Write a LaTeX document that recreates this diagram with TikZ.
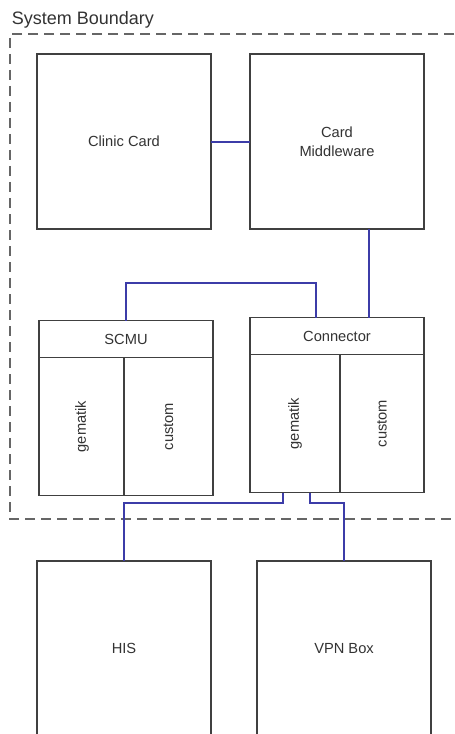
\documentclass[tikz,border=0pt]{standalone}
\usepackage{fontspec}
\setmainfont{Liberation Sans}
\usetikzlibrary{calc}
\definecolor{boxline}{HTML}{404040}
\definecolor{txt}{HTML}{333333}
\definecolor{link}{HTML}{3C3CA8}
\definecolor{bound}{HTML}{666666}
\tikzset{
  box/.style={draw=boxline, line width=1.15pt, minimum width=130.5pt, minimum height=131.25pt, inner sep=0pt, outer sep=0pt, text=txt, font=\fontsize{11}{14}\selectfont, align=center},
  lbl/.style={text=txt, font=\fontsize{11}{14}\selectfont, inner sep=0pt},
  inner/.style={draw=boxline, line width=1.15pt},
  link/.style={draw=link, line width=1pt},
  boundary/.style={draw=bound, line width=1.5pt, dash pattern=on 7.5pt off 4.5pt}
}
\begin{document}
\begin{tikzpicture}[x=0.75pt, y=-0.75pt]
\useasboundingbox (0,0) rectangle (454,734);
\clip (0,0) rectangle (454,734);
\fill[white] (0,0) rectangle (454,734);

% title
\node[anchor=base west, text=txt, font=\fontsize{13.5}{16}\selectfont, inner sep=0pt] (title) at (11.5,25) {System Boundary};

% boundary
\coordinate (bTR) at (470,34);
\coordinate (bTL) at (10,34);
\coordinate (bBL) at (10,519);
\coordinate (bBR) at (470,519);
\draw[boundary] (bTR) -- (bTL) -- (bBL) -- (bBR);

% top boxes
\node[box] (cc) at (124,141.5) {Clinic Card};
\node[box] (cm) at (337,141.5) {Card\\Middleware};

% SCMU
\node[box] (scmu) at (126,408) {};
\draw[inner] ($(scmu.north west)+(0,37)$) -- ($(scmu.north east)+(0,37)$);
\draw[inner] ($(scmu.north west)+(85,37)$) -- ($(scmu.south west)+(85,0)$);
\node[lbl] (scmuh) at ($(scmu.north)+(0,18.5)$) {SCMU};
\node[lbl, rotate=90] (scmug) at (82,426.5) {gematik};
\node[lbl, rotate=90] (scmuc) at (168.5,426.5) {custom};

% Connector
\node[box] (conn) at (337,405) {};
\draw[inner] ($(conn.north west)+(0,37)$) -- ($(conn.north east)+(0,37)$);
\draw[inner] ($(conn.north west)+(90,37)$) -- ($(conn.south west)+(90,0)$);
\node[lbl] (connh) at ($(conn.north)+(0,18.5)$) {Connector};
\node[lbl, rotate=90] (conng) at (295,423.5) {gematik};
\node[lbl, rotate=90] (connc) at (382,423.5) {custom};

% bottom boxes (cut by the page edge)
\node[box] (his) at (124,648.5) {HIS};
\node[box] (vpn) at (344,648.5) {VPN Box};

% connectors
\draw[link] ($(cc.east)+(0,0.5)$) -- ($(cm.west)+(0,0.5)$);
\draw[link] ($(cm.south)+(32,0)$) -- ($(conn.north)+(32,0)$);
\draw[link] (scmu.north) -- ++(0,-37.5) -| ($(conn.north)+(-21,0)$);
\draw[link] ($(conn.south)+(-54,0)$) -- ++(0,10.5) -| (his.north);
\draw[link] ($(conn.south)+(-27,0)$) -- ++(0,10.5) -| (vpn.north);
\end{tikzpicture}
\end{document}
